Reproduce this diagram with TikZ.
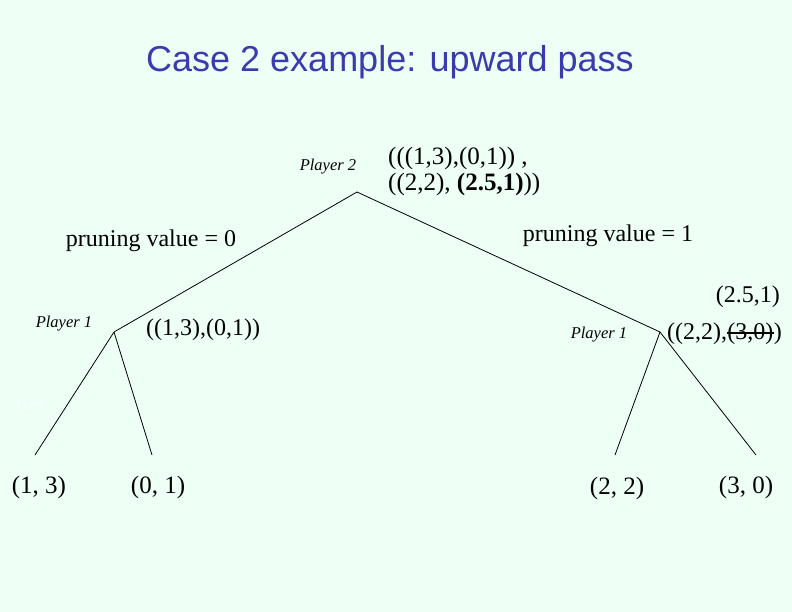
\documentclass[tikz,border=0pt]{standalone}
\usepackage{fontspec}
\setmainfont{Liberation Serif}
\newfontfamily\arialfont{Liberation Sans}
\definecolor{bgc}{HTML}{EEFFF6}
\definecolor{titlec}{HTML}{3B3BB0}
\definecolor{faint}{HTML}{F8FFFC}
\begin{document}
\begin{tikzpicture}[x=1pt,y=-1pt,
  lbl/.style={inner sep=0pt,font=\fontsize{24}{27}\selectfont},
  leaf/.style={inner sep=0pt,font=\fontsize{25}{28}\selectfont},
  plyr/.style={inner sep=0pt,font=\fontsize{16.5}{18}\selectfont\itshape},
  edge/.style={draw=black,line width=0.8pt}]
\fill[bgc] (0,0) rectangle (792,612);
\useasboundingbox (0,0) rectangle (792,612);
\node[inner sep=0pt,text=titlec,font=\arialfont\fontsize{36}{40}\selectfont] (title) at (390,62) {Case 2 example: upward pass};
% tree
\coordinate (root) at (357,192);
\coordinate (p1l) at (114,332);
\coordinate (p1r) at (660,332);
\coordinate (l1) at (35,455);
\coordinate (l2) at (152,455);
\coordinate (l3) at (615,455);
\coordinate (l4) at (756,455);
\draw[edge] (root) -- (p1l);
\draw[edge] (root) -- (p1r);
\draw[edge] (p1l) -- (l1);
\draw[edge] (p1l) -- (l2);
\draw[edge] (p1r) -- (l3);
\draw[edge] (p1r) -- (l4);
% labels
\node[plyr] (pl2) at (328,167) {Player 2};
\node[lbl,anchor=west,align=left,font=\fontsize{25}{26}\selectfont] (rootval) at (388,171) {(((1,3),(0,1)) ,\\((2,2), \textbf{(2.5,1)}))};
\node[lbl] (prune0) at (151,241) {pruning value = 0};
\node[lbl] (prune1) at (608,236) {pruning value = 1};
\node[plyr] (pl1a) at (64,324) {Player 1};
\node[lbl,anchor=west] (val1) at (146,330) {((1,3),(0,1))};
\node[plyr] (pl1b) at (599,335) {Player 1};
\node[lbl,anchor=east] (val25) at (780,297) {(2.5,1)};
\node[lbl,anchor=base east] (v2c) at (782,339) {)};
\node[lbl,anchor=base east] (v2b) at (v2c.base west) {(3,0)};
\node[lbl,anchor=base east] (v2a) at (v2b.base west) {((2,2),};
\draw[line width=1.6pt] (v2b.west) -- (v2b.east);
\node[inner sep=0pt,text=faint,font=\arialfont\bfseries\fontsize{12}{14}\selectfont] (left) at (33,405) {Left};
\node[leaf] (t1) at (39,487) {(1, 3)};
\node[leaf] (t2) at (158,487) {(0, 1)};
\node[leaf] (t3) at (617,488) {(2, 2)};
\node[leaf] (t4) at (746,487) {(3, 0)};
\end{tikzpicture}
\end{document}
